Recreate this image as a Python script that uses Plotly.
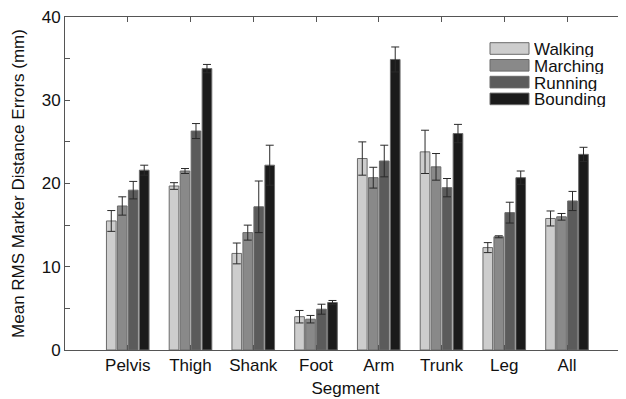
import plotly.graph_objects as go

segments = ["Pelvis", "Thigh", "Shank", "Foot", "Arm", "Trunk", "Leg", "All"]
series = ["Walking", "Marching", "Running", "Bounding"]

walking = [15.5, 19.7, 11.6, 4.0, 23.0, 23.8, 12.3, 15.8]
marching = [17.3, 21.5, 14.1, 3.7, 20.7, 22.0, 13.6, 16.0]
running = [19.2, 26.3, 17.2, 4.9, 22.7, 19.5, 16.5, 17.9]
bounding = [21.6, 33.8, 22.2, 5.7, 34.9, 26.0, 20.7, 23.5]

walking_err = [1.25, 0.4, 1.25, 0.75, 2.0, 2.6, 0.6, 0.9]
marching_err = [1.1, 0.3, 0.9, 0.45, 1.25, 1.6, 0.12, 0.4]
running_err = [1.05, 0.9, 3.1, 0.6, 1.9, 1.1, 1.25, 1.15]
bounding_err = [0.6, 0.5, 2.4, 0.25, 1.5, 1.1, 0.8, 0.85]

values = [walking, marching, running, bounding]
errors = [walking_err, marching_err, running_err, bounding_err]
colors = ["#cdcdcd", "#898989", "#5b5b5b", "#1b1b1b"]

FONT = "Liberation Sans, Arial, sans-serif"
xpos = list(range(1, len(segments) + 1))

fig = go.Figure()
for name, vals, errs, col in zip(series, values, errors, colors):
    fig.add_trace(go.Bar(
        x=xpos, y=vals, name=name,
        marker=dict(color=col, line=dict(color="#6a6a6a", width=1)),
        error_y=dict(type="data", array=errs, symmetric=True,
                     color="#2a2a2a", thickness=1, width=4),
        showlegend=False,
    ))

# dummy trace for right y axis ticks
fig.add_trace(go.Scatter(x=[None], y=[None], yaxis="y2", showlegend=False, hoverinfo="skip"))

# page has an 8px body margin: figure occupies 618x391 starting at (8,8)
OFF = 8
W, H = 626 - OFF, 399 - OFF
PL, PR_PX, PT, PB = 65, 626, 17, 350   # plot box in window pixels
pw, ph = PR_PX - PL, PB - PT
def px_x(p):
    return (p - PL) / pw
def px_y(p):
    return (PB - p) / ph

row0, pitch, sh = 48.5, 16.8, 11.6
for i, (name, col) in enumerate(zip(series, colors)):
    cy = row0 + i * pitch
    fig.add_shape(type="rect", xref="paper", yref="paper",
                  x0=px_x(490), x1=px_x(529), y0=px_y(cy + sh / 2), y1=px_y(cy - sh / 2),
                  fillcolor=col, line=dict(color="#6a6a6a", width=1))
    fig.add_annotation(xref="paper", yref="paper", x=px_x(533), y=px_y(cy + 0.5),
                       text=name, showarrow=False, xanchor="left", yanchor="middle",
                       height=16, borderpad=0,
                       font=dict(family=FONT, size=17, color="#111"))

ytickvals = list(range(0, 41, 5))
yticktext = [str(v) if v % 10 == 0 else "" for v in ytickvals]

fig.update_layout(
    width=W, height=H,
    margin=dict(l=PL - OFF, r=0, t=PT - OFF, b=399 - PB),
    paper_bgcolor="white", plot_bgcolor="white",
    barmode="group", bargap=0.30, bargroupgap=0.12,
    font=dict(family=FONT, size=17, color="#111"),
    xaxis=dict(range=[0, 8.94], tickvals=xpos, ticktext=segments,
               showline=True, linecolor="#555", linewidth=1, mirror="ticks",
               ticks="inside", ticklen=5, tickcolor="#555",
               showgrid=False, zeroline=False, automargin=False,
               title=dict(text="Segment", standoff=7, font=dict(size=17)),
               tickfont=dict(size=17)),
    yaxis=dict(range=[0, 40], tickvals=ytickvals, ticktext=yticktext,
               showline=True, linecolor="#555", linewidth=1,
               ticks="inside", ticklen=5, tickcolor="#555",
               showgrid=False, zeroline=False, automargin=False,
               ticklabeloverflow="allow",
               title=dict(text="Mean RMS Marker Distance Errors (mm)", standoff=12,
                          font=dict(size=17)),
               tickfont=dict(size=17)),
    yaxis2=dict(range=[0, 40], tickvals=ytickvals, overlaying="y", side="right",
                showline=False, ticks="inside", ticklen=3, tickcolor="#555",
                showticklabels=False, showgrid=False, zeroline=False, automargin=False),
)

fig.write_html("out.html")
